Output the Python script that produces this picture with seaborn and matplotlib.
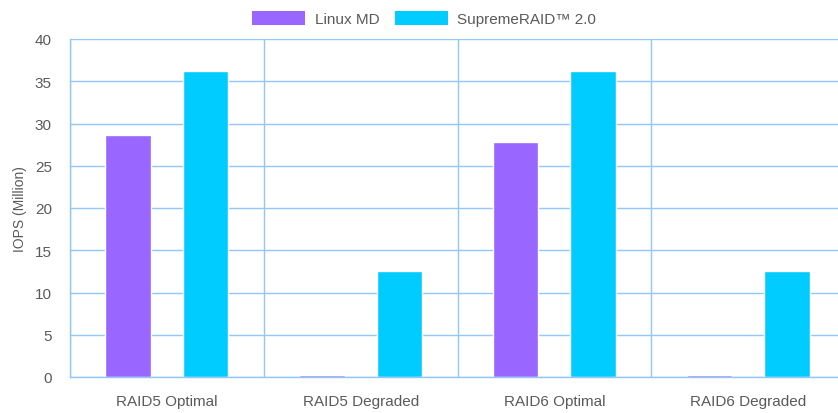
import matplotlib
matplotlib.use("Agg")
import matplotlib.pyplot as plt
import seaborn as sns
import pandas as pd
import numpy as np

categories = ["RAID5 Optimal", "RAID5 Degraded", "RAID6 Optimal", "RAID6 Degraded"]
series_names = ["Linux MD", "SupremeRAID™ 2.0"]
linux_md = [28.6, 0.2, 27.8, 0.2]
supremeraid = [36.2, 12.5, 36.2, 12.5]
colors = ["#9966FF", "#00CCFF"]
y_ticks = [0, 5, 10, 15, 20, 25, 30, 35, 40]

df = pd.DataFrame({
    "category": categories * 2,
    "series": [series_names[0]] * 4 + [series_names[1]] * 4,
    "value": linux_md + supremeraid,
})

sns.set_style("white")
plt.rcParams["font.family"] = ["Liberation Sans", "DejaVu Sans"]

grid_c = "#93C6FB"
text_c = "#5a5a5a"

fig = plt.figure(figsize=(8.38, 4.14), dpi=100)
ax = fig.add_axes([70/838, 1-378/414, (845-70)/838, (378-40)/414])

sns.barplot(data=df, x="category", y="value", hue="series", order=categories,
            hue_order=series_names, palette=colors, width=0.8, gap=0.41,
            saturation=1, ax=ax, legend=False)

ax.set_xlim(-0.5, 3.5)
ax.set_ylim(0, 40)
ax.set_yticks(y_ticks)
ax.set_xticks(np.arange(len(categories)))
ax.set_xticklabels(categories)
ax.set_xticks(np.arange(len(categories) + 1) - 0.5, minor=True)

ax.set_axisbelow(True)
ax.yaxis.grid(True, color=grid_c, linewidth=1)
ax.xaxis.grid(True, which="minor", color=grid_c, linewidth=1)
ax.xaxis.grid(False, which="major")

for s in ["top", "right"]:
    ax.spines[s].set_visible(False)
for s in ["left", "bottom"]:
    ax.spines[s].set_color(grid_c)
    ax.spines[s].set_linewidth(1)

ax.tick_params(axis="y", direction="out", length=8, width=1, color=grid_c,
               labelcolor=text_c, labelsize=11, pad=5)
ax.tick_params(axis="x", which="major", length=0, labelcolor=text_c, labelsize=11, pad=12)
ax.tick_params(axis="x", which="minor", direction="out", length=10, width=1, color=grid_c)

ax.set_xlabel("")
ax.set_ylabel("IOPS (Million)", color=text_c, fontsize=10, labelpad=6)

from matplotlib.patches import Patch
handles = [Patch(facecolor=c, edgecolor="none") for c in colors]
fig.legend(handles, series_names, loc="upper center", bbox_to_anchor=(0.506, 1.005),
           ncol=2, frameon=False, fontsize=11, labelcolor=text_c,
           handlelength=3.5, handleheight=1.1, columnspacing=1.0, handletextpad=0.6)

fig.savefig("out.png", dpi=100)
